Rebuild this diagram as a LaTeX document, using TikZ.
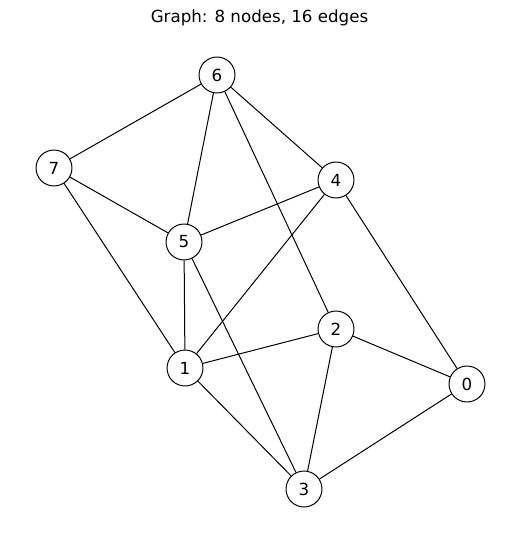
\documentclass[tikz,border=0pt]{standalone}
\usepackage{fontspec}
\setmainfont{DejaVu Sans}
\usepackage{tikz}
\usetikzlibrary{positioning}
\tikzset{
    graphnode/.style={draw, circle, fill=white, line width=0.72pt, minimum size=25.9pt, inner sep=0pt, font=\fontsize{12}{14}\selectfont},
    graphedge/.style={draw, line width=0.72pt},
    graphtitle/.style={font=\fontsize{12}{14}\selectfont}
}

\begin{document}
\begin{tikzpicture}[x=0.72pt, y=-0.72pt]
    \useasboundingbox (0,0) rectangle (519,542);
    \node[graphtitle] (title) at (259.5,18) {Graph: 8 nodes, 16 edges};

    \node[graphnode] (n0) at (467,384) {0};
    \node[graphnode] (n1) at (185,368) {1};
    \node[graphnode] (n2) at (336,329) {2};
    \node[graphnode] (n3) at (304,489) {3};
    \node[graphnode] (n4) at (336,180) {4};
    \node[graphnode] (n5) at (184,242) {5};
    \node[graphnode] (n6) at (217,75) {6};
    \node[graphnode] (n7) at (54,168) {7};

    \draw[graphedge] (n6) -- (n7);
    \draw[graphedge] (n6) -- (n5);
    \draw[graphedge] (n6) -- (n4);
    \draw[graphedge] (n6) -- (n2);
    \draw[graphedge] (n7) -- (n5);
    \draw[graphedge] (n7) -- (n1);
    \draw[graphedge] (n5) -- (n4);
    \draw[graphedge] (n5) -- (n1);
    \draw[graphedge] (n5) -- (n3);
    \draw[graphedge] (n4) -- (n1);
    \draw[graphedge] (n4) -- (n0);
    \draw[graphedge] (n2) -- (n1);
    \draw[graphedge] (n2) -- (n0);
    \draw[graphedge] (n2) -- (n3);
    \draw[graphedge] (n1) -- (n3);
    \draw[graphedge] (n0) -- (n3);
\end{tikzpicture}
\end{document}
